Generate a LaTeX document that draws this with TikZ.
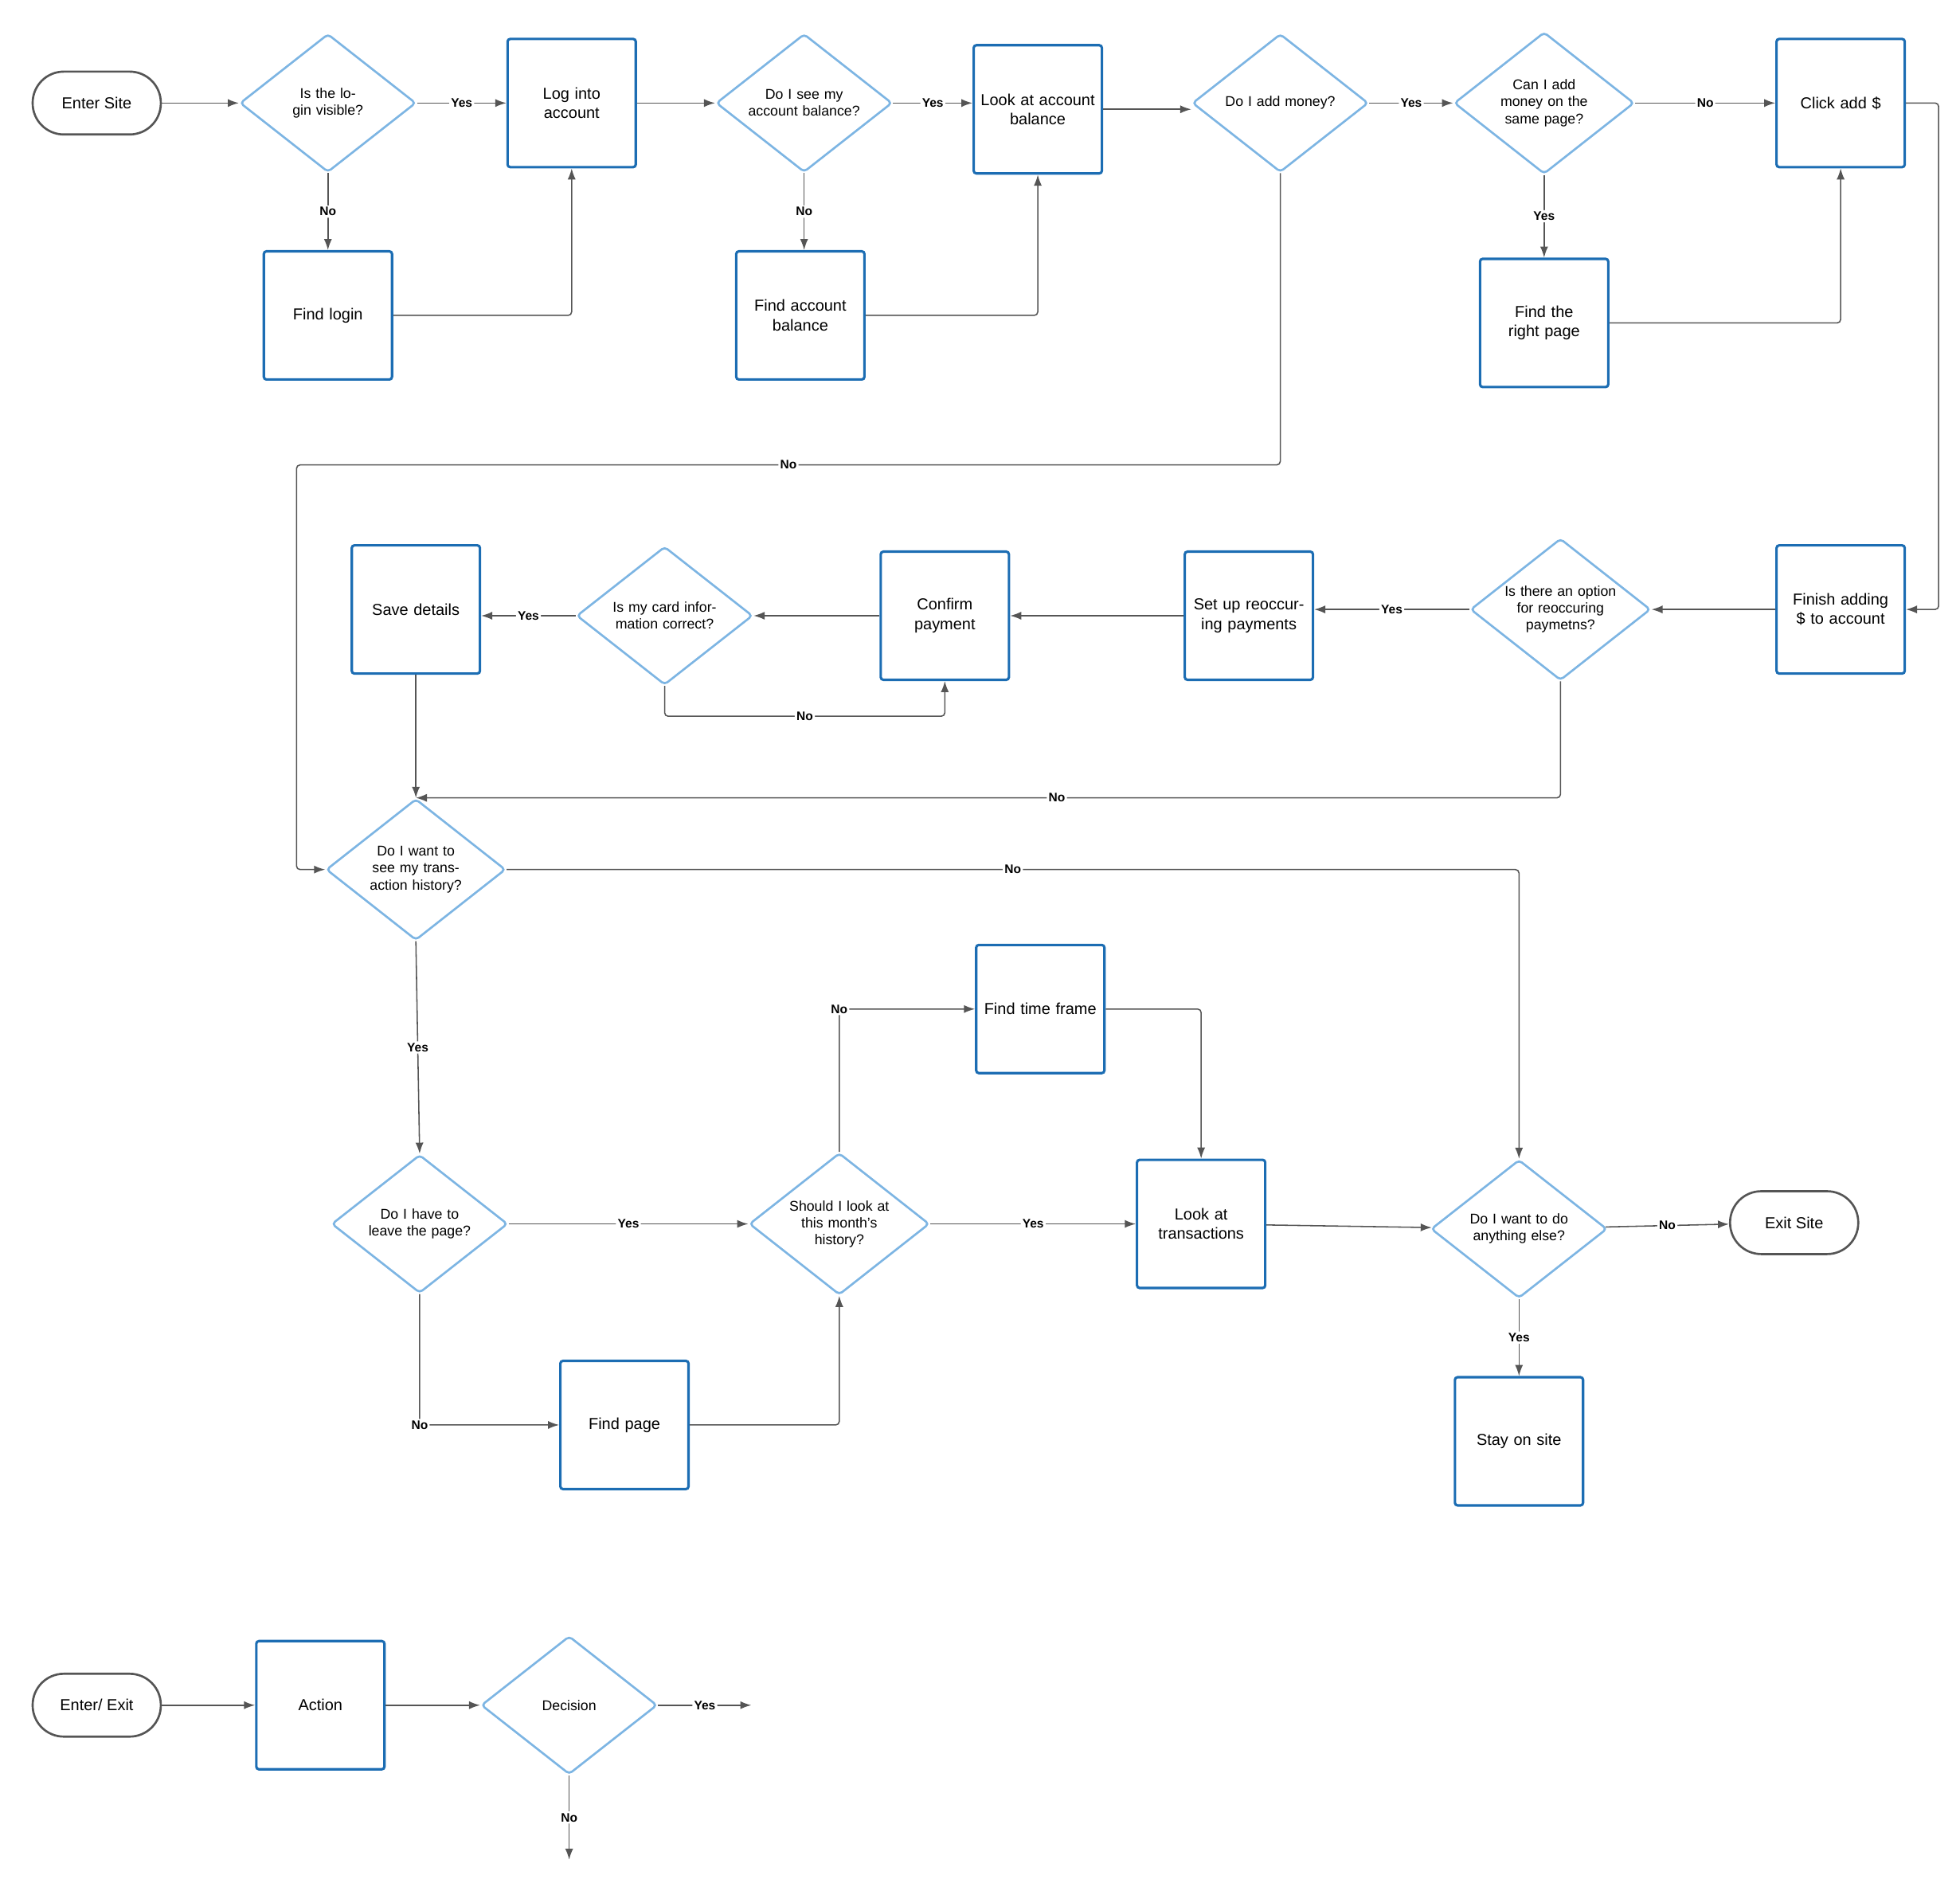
\documentclass[tikz,border=0pt]{standalone}
\usepackage{fontspec}
\setmainfont{Liberation Sans}
\usetikzlibrary{shapes.geometric,arrows.meta}
\definecolor{actblue}{HTML}{1C6DB3}
\definecolor{decblue}{HTML}{7DB5E3}
\definecolor{lnk}{HTML}{555555}
\tikzset{
  act/.style={draw=actblue,line width=1.4pt,rounded corners=1.5pt,minimum width=2.55cm,minimum height=2.55cm,text width=2.3cm,align=center,font=\small},
  dec/.style={diamond,draw=decblue,line width=1.2pt,rounded corners=2pt,minimum width=3.5cm,minimum height=2.75cm,shape aspect=1.27,inner sep=0pt,text width=2.4cm,align=center,font=\footnotesize},
  term/.style={draw=lnk,line width=1.2pt,rounded corners=0.62cm,minimum width=2.55cm,minimum height=1.25cm,font=\small},
  lnk/.style={draw=lnk,line width=0.7pt,-{Latex[length=2.2mm,width=1.6mm]},rounded corners=2pt},
  lab/.style={fill=white,inner sep=1pt,font=\scriptsize\bfseries,text=black}
}
\begin{document}
\begin{tikzpicture}[x={(0.025cm,0)},y={(0,-0.025cm)}]
\useasboundingbox (0,0) rectangle (1560,1498);
% nodes, top row
\node[term] (enter) at (77,82) {Enter Site};
\node[dec] (loginq) at (261,82) {Is the login visible?};
\node[act] (login) at (455,82) {Log into account};
\node[act] (findlogin) at (261,251) {Find login};
\node[dec] (balq) at (640,82) {Do I see my account balance?};
\node[act] (findbal) at (637,251) {Find account balance};
\node[act] (lookbal) at (826,87) {Look at account balance};
\node[dec] (moneyq) at (1019,82) {Do I add money?};
\node[dec] (sameq) at (1229,82) {Can I add money on the same page?};
\node[act] (click) at (1465,82) {Click add \$};
\node[act] (findright) at (1229,257) {Find the right page};
% middle row
\node[act] (finish) at (1465,485) {Finish adding \$ to account};
\node[dec] (recq) at (1242,485) {Is there an option for reoccuring paymetns?};
\node[act] (setup) at (994,490) {Set up reoccuring payments};
\node[act] (confirm) at (752,490) {Confirm payment};
\node[dec] (cardq) at (529,490) {Is my card information correct?};
\node[act] (save) at (331,485) {Save details};
\node[dec] (histq) at (331,692) {Do I want to see my transaction history?};
% lower rows
\node[dec] (leaveq) at (334,974) {Do I have to leave the page?};
\node[dec] (monthq) at (668,974) {Should I look at this month's history?};
\node[act] (findtime) at (828,803) {Find time frame};
\node[act] (looktr) at (956,974) {Look at transactions};
\node[act] (findpage) at (497,1134) {Find page};
\node[dec] (elseq) at (1209,978) {Do I want to do anything else?};
\node[term] (exit) at (1428,973) {Exit Site};
\node[act] (stay) at (1209,1147) {Stay on site};
% legend
\node[term] (legterm) at (77,1357) {Enter/ Exit};
\node[act] (legact) at (255,1357) {Action};
\node[dec] (legdec) at (453,1357) {Decision};
\coordinate (legyes) at (598,1357);
\coordinate (legno) at (453,1480);
% connectors
\draw[lnk] (enter) -- (loginq);
\draw[lnk] (loginq) -- node[lab]{Yes} (login);
\draw[lnk] (loginq) -- node[lab]{No} (findlogin);
\draw[lnk] (findlogin.east) -| (login.south);
\draw[lnk] (login) -- (balq);
\draw[lnk] (balq) -- node[lab]{Yes} (lookbal.west |- balq);
\draw[lnk] (balq) -- node[lab]{No} (findbal.north -| balq);
\draw[lnk] (findbal.east) -| (lookbal.south);
\draw[lnk] (lookbal.east) -- (moneyq.west |- lookbal.east);
\draw[lnk] (moneyq) -- node[lab]{Yes} (sameq);
\draw[lnk] (sameq) -- node[lab]{No} (click);
\draw[lnk] (sameq) -- node[lab]{Yes} (findright);
\draw[lnk] (findright.east) -| (click.south);
\draw[lnk] (click.east) -- (1543,82) -- (1543,485) -- (finish.east);
\draw[lnk] (finish) -- (recq);
\draw[lnk] (recq) -- node[lab]{Yes} (setup.east |- recq);
\draw[lnk] (setup) -- (confirm);
\draw[lnk] (confirm) -- (cardq);
\draw[lnk] (cardq) -- node[lab]{Yes} (save.east |- cardq);
\draw[lnk] (cardq.south) -- (529,570) -- node[lab]{No} (752,570) -- (confirm.south);
\draw[lnk] (save) -- (histq);
\draw[lnk] (recq.south) |- node[lab,pos=0.72]{No} (histq.north);
\draw[lnk] (moneyq.south) -- (1019,370) -- node[lab]{No} (236,370) -- (236,692) -- (histq.west);
\draw[lnk] (histq.east) -- node[lab]{No} (1209,692) -- (elseq.north);
\draw[lnk] (histq.south) -- node[lab]{Yes} (leaveq.north);
\draw[lnk] (leaveq) -- node[lab]{Yes} (monthq);
\draw[lnk] (leaveq.south) |- node[lab,pos=0.5]{No} (findpage.west);
\draw[lnk] (findpage.east) -| (monthq.south);
\draw[lnk] (monthq.north) |- node[lab,pos=0.5]{No} (findtime.west);
\draw[lnk] (findtime.east) -| (looktr.north);
\draw[lnk] (monthq) -- node[lab]{Yes} (looktr);
\draw[lnk] (looktr) -- (elseq);
\draw[lnk] (elseq) -- node[lab]{No} (exit);
\draw[lnk] (elseq) -- node[lab]{Yes} (stay);
\draw[lnk] (legterm) -- (legact);
\draw[lnk] (legact) -- (legdec);
\draw[lnk] (legdec) -- node[lab]{Yes} (legyes);
\draw[lnk] (legdec) -- node[lab]{No} (legno);
\end{tikzpicture}
\end{document}
